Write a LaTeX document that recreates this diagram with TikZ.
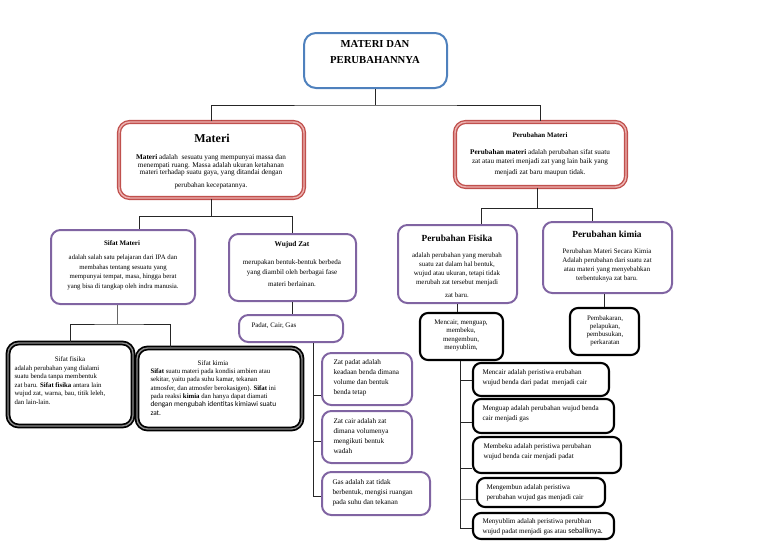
\documentclass[tikz,border=0pt]{standalone}
\usepackage{fontspec}
\setmainfont{Liberation Serif}
\setsansfont{Carlito}
\definecolor{boxblue}{HTML}{4F81BD}
\definecolor{boxred}{HTML}{C0504D}
\definecolor{boxredin}{HTML}{EDB3B1}
\definecolor{boxpurple}{HTML}{8064A2}
\tikzset{every picture/.style={line width=0.75pt},
  bluebox/.style={draw=boxblue, line width=1.5pt, rounded corners=9pt, inner sep=0pt},
  redbox/.style={draw=boxred, double=boxredin, double distance=1.1pt, line width=1pt, rounded corners=8pt, inner sep=0pt},
  purplebox/.style={draw=boxpurple, line width=1.5pt, rounded corners=7pt, inner sep=0pt},
  blackbox/.style={draw=black, line width=1.6pt, rounded corners=6pt, inner sep=0pt},
  heavybox/.style={draw=black, double=black!45, double distance=1pt, line width=1.3pt, rounded corners=8pt, inner sep=0pt},
  txt/.style={inner sep=0pt, align=center, font=\fontsize{5.2}{7}\selectfont},
  ltxt/.style={txt, align=left, anchor=west},
  conn/.style={draw=black!85, line width=0.75pt}}

\begin{document}
\begin{tikzpicture}[x=0.75pt,y=0.75pt,yscale=-1]
\useasboundingbox (0,0) rectangle (768,543);

%Shape: top box
\node [bluebox, minimum width=107.25pt, minimum height=41.25pt] (judul) at (375.5,60.5) {};
%Shape: Materi
\node [redbox, minimum width=138.75pt, minimum height=57pt] (materi) at (211.5,160) {};
%Shape: Perubahan Materi
\node [redbox, minimum width=128.25pt, minimum height=48.75pt] (pmateri) at (540.5,154.5) {};
%Shape: Sifat Materi
\node [purplebox, minimum width=108pt, minimum height=55.5pt] (smateri) at (123,267) {};
%Shape: Wujud Zat
\node [purplebox, minimum width=95.25pt, minimum height=50.25pt] (wzat) at (292.5,267.5) {};
%Shape: Sifat fisika
\node [heavybox, minimum width=93.75pt, minimum height=62.25pt] (sfisika) at (70.5,384.5) {};
%Shape: Sifat kimia
\node [heavybox, minimum width=123.75pt, minimum height=60.75pt] (skimia) at (219.5,388.5) {};
%Shape: Padat, Cair, Gas
\node [purplebox, minimum width=78pt, minimum height=20.25pt] (padat) at (291,328.5) {};
%Shape: Zat padat
\node [purplebox, minimum width=67.5pt, minimum height=39pt] (zpadat) at (367,379) {};
%Shape: Zat cair
\node [purplebox, minimum width=67.5pt, minimum height=39pt] (zcair) at (367,437) {};
%Shape: Gas
\node [purplebox, minimum width=81pt, minimum height=32.25pt] (zgas) at (376,493.5) {};
%Shape: Perubahan Fisika
\node [purplebox, minimum width=89.25pt, minimum height=58.5pt] (pfisika) at (457.5,264) {};
%Shape: Perubahan kimia
\node [purplebox, minimum width=96.75pt, minimum height=53.25pt] (pkimia) at (607.5,257.5) {};
%Shape: Mencair, menguap ...
\node [blackbox, minimum width=62.25pt, minimum height=35.25pt] (ubah) at (461.5,336.5) {};
%Shape: Pembakaran ...
\node [blackbox, minimum width=51.75pt, minimum height=35.25pt] (bakar) at (604.5,331.5) {};
%Shape: Mencair
\node [blackbox, minimum width=102pt, minimum height=24.75pt] (mencair) at (541,379.5) {};
%Shape: Menguap
\node [blackbox, minimum width=105.75pt, minimum height=25.5pt] (menguap) at (543.5,416) {};
%Shape: Membeku
\node [blackbox, minimum width=111pt, minimum height=27pt] (membeku) at (547,455) {};
%Shape: Mengembun
\node [blackbox, minimum width=96pt, minimum height=21.75pt] (mengembun) at (541,492.5) {};
%Shape: Menyublim
\node [blackbox, minimum width=105.75pt, minimum height=19.5pt] (menyublim) at (543.5,526) {};

%Straight Lines: top level
\draw [conn] (judul.south) -- ++(0,16) coordinate (bus1);
\draw [conn] (materi.north) |- (bus1) -| (pmateri.north);
%Straight Lines: Materi
\draw [conn] (materi.south) -- ++(0,18) coordinate (bus2);
\draw [conn] ([xshift=12pt]smateri.north) |- (bus2) -| (wzat.north);
%Straight Lines: Perubahan Materi
\draw [conn] ([xshift=-2.5pt]pmateri.south) -- ++(0,21) coordinate (bus3);
\draw [conn] ([xshift=18pt]pfisika.north) |- (bus3) -| ([xshift=-11pt]pkimia.north);
%Straight Lines: Sifat Materi
\draw [conn, black!60] ([xshift=-4pt]smateri.south) -- ++(0,19) coordinate (bus4);
\draw [conn] (sfisika.north) |- (bus4) -| ([xshift=-37pt]skimia.north);
%Straight Lines: Wujud Zat
\draw [conn] (wzat.south) -- (wzat.south |- padat.north);
\draw [conn] ([xshift=17pt]padat.south) |- ([yshift=12pt]zpadat.west);
\draw [conn] ([xshift=17pt]padat.south) |- ([yshift=3pt]zcair.west);
\draw [conn] ([xshift=17pt]padat.south) |- ([yshift=2.5pt]zgas.west);
%Straight Lines: Perubahan Fisika / kimia
\draw [conn] (pfisika.south) -- (pfisika.south |- ubah.north);
\draw [conn] (bakar.north |- pkimia.south) -- (bakar.north);
\draw [conn] ([xshift=-1pt]ubah.south) |- ([yshift=1pt]mencair.west);
\draw [conn] ([xshift=-1pt]ubah.south) |- ([yshift=4.5pt]menguap.west);
\draw [conn] ([xshift=-1pt]ubah.south) |- ([yshift=10pt]membeku.west);
\draw [conn, black!50] ([xshift=-1pt]ubah.south) |- ([yshift=5.5pt]mengembun.west);
\draw [conn] ([xshift=-1pt]ubah.south) |- ([yshift=2pt]menyublim.west);

% Text Node
\node [txt, font=\fontsize{8}{12}\selectfont\bfseries] (tjudul) at (375,52) {MATERI DAN\\PERUBAHANNYA};
% Text Node
\node [txt, font=\fontsize{9}{10}\selectfont\bfseries] (tmateri) at (212,138) {Materi};
% Text Node
\node [txt, font=\fontsize{5.4}{5.8}\selectfont] (bmateri) at (211,172) {\textbf{Materi} adalah\ \ sesuatu yang mempunyai massa dan\\menempati ruang. Massa adalah ukuran ketahanan\\materi terhadap suatu gaya, yang ditandai dengan\\[4pt]perubahan kecepatannya.};
% Text Node
\node [txt, font=\fontsize{5.2}{6}\selectfont\bfseries] (tpmateri) at (540,135) {Perubahan Materi};
% Text Node
\node [txt, font=\fontsize{5.4}{6.8}\selectfont] (bpmateri) at (540,163) {\textbf{Perubahan materi} adalah perubahan sifat suatu\\zat atau materi menjadi zat yang lain baik yang\\[1.5pt]menjadi zat baru maupun tidak.};
% Text Node
\node [txt, font=\fontsize{5.2}{6}\selectfont\bfseries] (tsmateri) at (122,243) {Sifat Materi};
% Text Node
\node [txt, font=\fontsize{5.1}{7.3}\selectfont] (bsmateri) at (123,272.5) {adalah salah satu pelajaran dari IPA dan\\membahas tentang sesuatu yang\\mempunyai tempat, masa, hingga berat\\yang bisa di tangkap oleh indra manusia.};
% Text Node
\node [txt, font=\fontsize{5.5}{6}\selectfont\bfseries] (twzat) at (292,245) {Wujud Zat};
% Text Node
\node [txt, font=\fontsize{5.3}{7.5}\selectfont] (bwzat) at (292,273) {merupakan bentuk-bentuk berbeda\\yang diambil oleh berbagai fase\\[1.5pt]materi berlainan.};
% Text Node
\node [txt, font=\fontsize{5.2}{6}\selectfont] (tsfisika) at (70,359) {Sifat fisika};
% Text Node
\node [ltxt, font=\fontsize{5.1}{6.4}\selectfont] (bsfisika) at (14,385) {adalah perubahan yang dialami\\suatu benda tanpa membentuk\\zat baru. \textbf{Sifat fisika} antara lain\\wujud zat, warna, bau, titik leleh,\\dan lain-lain.};
% Text Node
\node [txt, font=\fontsize{5.2}{6}\selectfont] (tskimia) at (213,363) {Sifat kimia};
% Text Node
\node [ltxt, font=\fontsize{5.1}{6.3}\selectfont] (bskimia) at (150,392) {\textbf{Sifat} suatu materi pada kondisi ambien atau\\sekitar, yaitu pada suhu kamar, tekanan\\atmosfer, dan atmosfer berokasigen). \textbf{Sifat} ini\\pada reaksi \textbf{kimia} dan hanya dapat diamati\\{\sffamily\fontsize{5.5}{6.3}\selectfont dengan mengubah identitas kimiawi suatu}\\{\sffamily\fontsize{5.5}{6.3}\selectfont zat.}};
% Text Node
\node [ltxt] (tpadat) at (251,326) {Padat, Cair, Gas};
% Text Node
\node [ltxt, font=\fontsize{5.4}{7.5}\selectfont] (bzpadat) at (333,378) {Zat padat adalah\\keadaan benda dimana\\volume dan bentuk\\benda tetap};
% Text Node
\node [ltxt, font=\fontsize{5.4}{7.5}\selectfont] (bzcair) at (333,436) {Zat cair adalah zat\\dimana volumenya\\mengikuti bentuk\\wadah};
% Text Node
\node [ltxt, font=\fontsize{5.4}{7.5}\selectfont] (bzgas) at (332,493) {Gas adalah zat tidak\\berbentuk, mengisi ruangan\\pada suhu dan tekanan};
% Text Node
\node [txt, font=\fontsize{7}{8}\selectfont\bfseries] (tpfisika) at (457,238) {Perubahan Fisika};
% Text Node
\node [txt, font=\fontsize{5.2}{6.75}\selectfont] (bpfisika) at (457,275) {adalah perubahan yang merubah\\suatu zat dalam hal bentuk,\\wujud atau ukuran, tetapi tidak\\merubah zat tersebut menjadi\\[3pt]zat baru.};
% Text Node
\node [txt, font=\fontsize{7}{8}\selectfont\bfseries] (tpkimia) at (607,234) {Perubahan kimia};
% Text Node
\node [txt, font=\fontsize{5.2}{6.75}\selectfont] (bpkimia) at (607,265.5) {Perubahan Materi Secara Kimia\\Adalah perubahan dari suatu zat\\atau materi yang menyebabkan\\terbentuknya zat baru.};
% Text Node
\node [txt, font=\fontsize{5.2}{6.2}\selectfont] (tubah) at (461,335.5) {Mencair, menguap,\\membeku,\\mengembun,\\menyublim,};
% Text Node
\node [txt, font=\fontsize{5.2}{6}\selectfont] (tbakar) at (605,331) {Pembakaran,\\pelapukan,\\pembusukan,\\perkaratan};
% Text Node
\node [ltxt, font=\fontsize{5.3}{7.5}\selectfont] (tmencair) at (482,378) {Mencair adalah peristiwa erubahan\\wujud benda dari padat\ \ menjadi cair};
% Text Node
\node [ltxt, font=\fontsize{5.3}{7.5}\selectfont] (tmenguap) at (482,414) {Menguap adalah perubahan wujud benda\\cair menjadi gas};
% Text Node
\node [ltxt, font=\fontsize{5.3}{7.5}\selectfont] (tmembeku) at (483,451.5) {Membeku adalah peristiwa perubahan\\wujud benda cair menjadi padat};
% Text Node
\node [ltxt, font=\fontsize{5.3}{7.5}\selectfont] (tmengembun) at (486,493) {Mengembun adalah peristiwa\\perubahan wujud gas menjadi cair};
% Text Node
\node [ltxt, font=\fontsize{5.3}{7.5}\selectfont] (tmenyublim) at (482,527) {Menyublim adalah peristiwa perubhan\\wujud padat menjadi gas atau {\sffamily\fontsize{5.8}{7.5}\selectfont sebaliknya.}};

\end{tikzpicture}
\end{document}
